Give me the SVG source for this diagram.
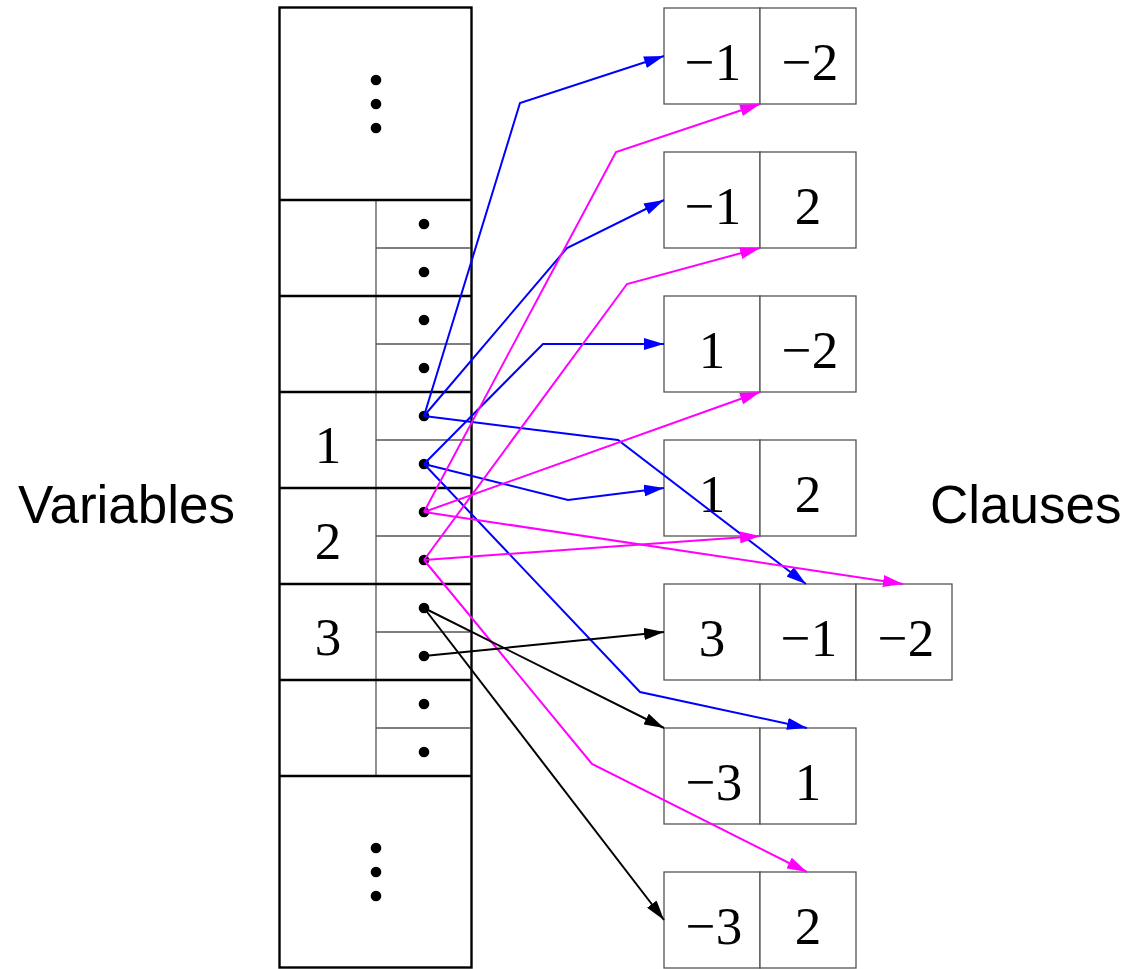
<svg xmlns="http://www.w3.org/2000/svg" width="1126" height="969" viewBox="0 0 1126 969">
<style>
.thick{stroke:#000;stroke-width:2.4;fill:none}
.thin{stroke:#555;stroke-width:1.3;fill:none}
.box{stroke:#555;stroke-width:1.3;fill:#fff}
.dot{fill:#000}
.num{font-family:"Liberation Serif","Times New Roman",serif;font-size:53px;text-anchor:middle;fill:#000}
.lab{font-family:"Liberation Sans",Arial,sans-serif;font-size:53px;fill:#000}
.b{stroke:#0000ff;stroke-width:2;fill:none;marker-end:url(#ab)}
.m{stroke:#ff00ff;stroke-width:2;fill:none;marker-end:url(#am)}
.k{stroke:#000;stroke-width:2;fill:none;marker-end:url(#ak)}
</style>
<defs>
<marker id="ab" markerUnits="userSpaceOnUse" markerWidth="20" markerHeight="12" viewBox="0 0 20 12" refX="20" refY="6" orient="auto"><path d="M0,0 L20,6 L0,12 z" fill="#0000ff"/></marker>
<marker id="am" markerUnits="userSpaceOnUse" markerWidth="20" markerHeight="12" viewBox="0 0 20 12" refX="20" refY="6" orient="auto"><path d="M0,0 L20,6 L0,12 z" fill="#ff00ff"/></marker>
<marker id="ak" markerUnits="userSpaceOnUse" markerWidth="20" markerHeight="12" viewBox="0 0 20 12" refX="20" refY="6" orient="auto"><path d="M0,0 L20,6 L0,12 z" fill="#000"/></marker>
</defs>
<rect width="1126" height="969" fill="#fff"/>

<text class="lab" x="18" y="523">Variables</text>
<text class="lab" x="930" y="523">Clauses</text>

<g id="variables">
<rect class="thick" x="279.5" y="7.5" width="192" height="960"/>
<g class="thin">
<line x1="376" y1="200" x2="376" y2="776"/>
<line x1="376" y1="248" x2="471" y2="248"/>
<line x1="376" y1="344" x2="471" y2="344"/>
<line x1="376" y1="440" x2="471" y2="440"/>
<line x1="376" y1="536" x2="471" y2="536"/>
<line x1="376" y1="632" x2="471" y2="632"/>
<line x1="376" y1="728" x2="471" y2="728"/>
</g>
<g class="thick">
<line x1="279" y1="200" x2="471" y2="200"/>
<line x1="279" y1="296" x2="471" y2="296"/>
<line x1="279" y1="392" x2="471" y2="392"/>
<line x1="279" y1="488" x2="471" y2="488"/>
<line x1="279" y1="584" x2="471" y2="584"/>
<line x1="279" y1="680" x2="471" y2="680"/>
<line x1="279" y1="776" x2="471" y2="776"/>
</g>
<g id="var-top" class="dot"><circle cx="376" cy="80" r="5.3"/><circle cx="376" cy="104" r="5.3"/><circle cx="376" cy="128" r="5.3"/></g>
<g id="var-a" class="dot"><circle cx="424" cy="224" r="5.3"/><circle cx="424" cy="272" r="5.3"/></g>
<g id="var-b" class="dot"><circle cx="424" cy="320" r="5.3"/><circle cx="424" cy="368" r="5.3"/></g>
<g id="var-1"><text class="num" x="328" y="463">1</text><circle class="dot" cx="424" cy="416" r="5.3"/><circle class="dot" cx="424" cy="464" r="5.3"/></g>
<g id="var-2"><text class="num" x="328" y="559">2</text><circle class="dot" cx="424" cy="512" r="5.3"/><circle class="dot" cx="424" cy="560" r="5.3"/></g>
<g id="var-3"><text class="num" x="328" y="655">3</text><circle class="dot" cx="424" cy="608" r="5.3"/><circle class="dot" cx="424" cy="656" r="5.3"/></g>
<g id="var-c" class="dot"><circle cx="424" cy="704" r="5.3"/><circle cx="424" cy="752" r="5.3"/></g>
<g id="var-bottom" class="dot"><circle cx="376" cy="848" r="5.3"/><circle cx="376" cy="872" r="5.3"/><circle cx="376" cy="896" r="5.3"/></g>
</g>

<g id="clause-1"><rect class="box" x="664" y="8" width="96" height="96"/><rect class="box" x="760" y="8" width="96" height="96"/><text class="num" x="713" y="80">−1</text><text class="num" x="810" y="80">−2</text></g>
<g id="clause-2"><rect class="box" x="664" y="152" width="96" height="96"/><rect class="box" x="760" y="152" width="96" height="96"/><text class="num" x="713" y="224">−1</text><text class="num" x="808" y="224">2</text></g>
<g id="clause-3"><rect class="box" x="664" y="296" width="96" height="96"/><rect class="box" x="760" y="296" width="96" height="96"/><text class="num" x="712" y="368">1</text><text class="num" x="810" y="368">−2</text></g>
<g id="clause-4"><rect class="box" x="664" y="440" width="96" height="96"/><rect class="box" x="760" y="440" width="96" height="96"/><text class="num" x="712" y="512">1</text><text class="num" x="808" y="512">2</text></g>
<g id="clause-5"><rect class="box" x="664" y="584" width="96" height="96"/><rect class="box" x="760" y="584" width="96" height="96"/><rect class="box" x="856" y="584" width="96" height="96"/><text class="num" x="712" y="656">3</text><text class="num" x="809" y="656">−1</text><text class="num" x="906" y="656">−2</text></g>
<g id="clause-6"><rect class="box" x="664" y="728" width="96" height="96"/><rect class="box" x="760" y="728" width="96" height="96"/><text class="num" x="714" y="800">−3</text><text class="num" x="808" y="800">1</text></g>
<g id="clause-7"><rect class="box" x="664" y="872" width="96" height="96"/><rect class="box" x="760" y="872" width="96" height="96"/><text class="num" x="714" y="944">−3</text><text class="num" x="808" y="944">2</text></g>

<g id="connectors">
<polyline class="b" points="424,416 520,103 664,56"/>
<polyline class="b" points="424,416 567,248 664,200"/>
<polyline class="b" points="424,464 543,344 664,344"/>
<polyline class="b" points="424,416 618,440 806,584"/>
<polyline class="b" points="424,464 568,500 664,488"/>
<polyline class="b" points="424,464 640,692 807,728"/>
<polyline class="m" points="424,512 616,152 760,104"/>
<polyline class="m" points="424,560 627,284 760,248"/>
<polyline class="m" points="424,512 760,392"/>
<polyline class="m" points="424,512 903,584"/>
<polyline class="m" points="424,560 760,536"/>
<polyline class="m" points="424,560 592,764 807,872"/>
<polyline class="k" points="424,656 664,632"/>
<polyline class="k" points="424,608 664,728"/>
<polyline class="k" points="424,608 664,920"/>
</g>
</svg>
